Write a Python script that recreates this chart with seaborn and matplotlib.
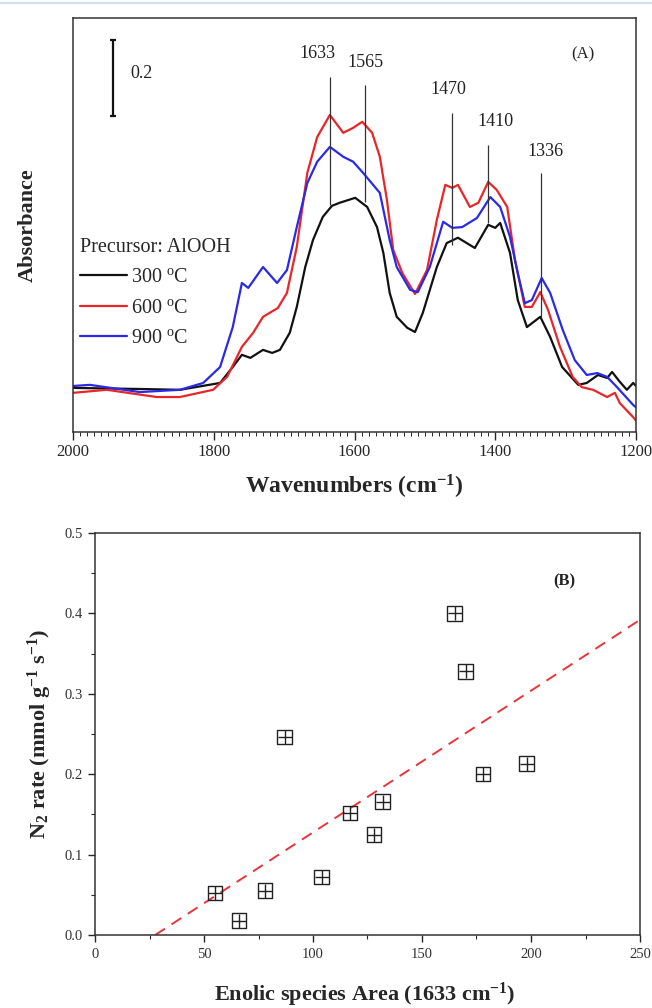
import numpy as np
import pandas as pd
import matplotlib
matplotlib.use("Agg")
import matplotlib.pyplot as plt
from matplotlib.ticker import MultipleLocator, FormatStrFormatter
import seaborn as sns

# ---------------- Panel A data: IR spectra ----------------
w300 = [2000, 1900, 1848, 1791, 1773, 1760, 1748, 1730, 1717, 1706, 1692, 1682, 1670, 1659,
        1645, 1632, 1621, 1599, 1582, 1568, 1559, 1550, 1540, 1525, 1514, 1503, 1483, 1469,
        1453, 1429, 1410, 1400, 1393, 1379, 1368, 1355, 1336, 1322, 1305, 1282, 1270, 1254,
        1241, 1234, 1223, 1213, 1204, 1200]
a300 = [0.116, 0.113, 0.111, 0.129, 0.171, 0.203, 0.195, 0.216, 0.208, 0.216, 0.261, 0.329,
        0.434, 0.505, 0.566, 0.595, 0.603, 0.616, 0.592, 0.539, 0.471, 0.366, 0.303, 0.274,
        0.263, 0.313, 0.434, 0.497, 0.511, 0.484, 0.545, 0.537, 0.550, 0.471, 0.347, 0.276,
        0.303, 0.250, 0.171, 0.124, 0.129, 0.150, 0.142, 0.158, 0.132, 0.111, 0.129, 0.121]

w600 = [2000, 1952, 1881, 1848, 1801, 1781, 1760, 1744, 1730, 1709, 1696, 1682, 1667, 1653,
        1635, 1616, 1602, 1589, 1575, 1564, 1554, 1545, 1532, 1514, 1497, 1483, 1471, 1461,
        1453, 1436, 1424, 1410, 1398, 1383, 1372, 1358, 1348, 1336, 1325, 1308, 1290, 1277,
        1261, 1241, 1230, 1223, 1204, 1200]
a600 = [0.103, 0.111, 0.092, 0.092, 0.111, 0.145, 0.224, 0.261, 0.303, 0.326, 0.366, 0.487,
        0.682, 0.776, 0.834, 0.787, 0.800, 0.816, 0.787, 0.724, 0.611, 0.479, 0.418, 0.363,
        0.426, 0.558, 0.650, 0.642, 0.650, 0.592, 0.603, 0.658, 0.637, 0.592, 0.453, 0.329,
        0.329, 0.368, 0.321, 0.224, 0.145, 0.118, 0.111, 0.092, 0.103, 0.076, 0.039, 0.030]

w900 = [2000, 1976, 1905, 1848, 1815, 1791, 1773, 1760, 1751, 1730, 1710, 1696, 1682, 1667,
        1653, 1635, 1616, 1602, 1588, 1564, 1550, 1540, 1521, 1510, 1493, 1474, 1461, 1447,
        1426, 1407, 1393, 1379, 1368, 1358, 1348, 1334, 1322, 1304, 1287, 1270, 1255, 1241,
        1227, 1204, 1200]
a900 = [0.121, 0.124, 0.105, 0.111, 0.129, 0.171, 0.276, 0.392, 0.379, 0.434, 0.392, 0.426,
        0.539, 0.655, 0.711, 0.750, 0.724, 0.711, 0.682, 0.629, 0.505, 0.434, 0.374, 0.368,
        0.434, 0.553, 0.537, 0.539, 0.563, 0.618, 0.592, 0.513, 0.418, 0.339, 0.347, 0.405,
        0.366, 0.268, 0.189, 0.150, 0.155, 0.145, 0.118, 0.071, 0.065]

series_labels = ["300 $^{o}$C", "600 $^{o}$C", "900 $^{o}$C"]
series_colors = ["#111111", "#e8262a", "#2a2ae6"]

# peak markers
peak_labels = ["1633", "1565", "1470", "1410", "1336"]
peak_line_x = [1635, 1585, 1462, 1411, 1335]
peak_line_top = [0.934, 0.913, 0.839, 0.755, 0.682]
peak_line_bottom = [0.597, 0.605, 0.492, 0.550, 0.303]
peak_text_x = [1652, 1585, 1467, 1400, 1329]
peak_text_y = [0.995, 0.971, 0.900, 0.816, 0.737]

# ---------------- Panel B data ----------------
area = [55, 66, 78, 87, 104, 117, 128, 132, 165, 170, 178, 198]
n2_rate = [0.052, 0.018, 0.055, 0.246, 0.072, 0.152, 0.125, 0.166, 0.400, 0.328, 0.200, 0.213]
fit_x = [27.6, 250]
fit_y = [0.0, 0.392]

# ---------------- style ----------------
sns.set_style("ticks")
plt.rcParams["font.family"] = ["Liberation Serif", "DejaVu Serif"]
plt.rcParams["mathtext.fontset"] = "custom"
plt.rcParams["mathtext.rm"] = "Liberation Serif"
plt.rcParams["mathtext.bf"] = "Liberation Serif:bold"
plt.rcParams["mathtext.it"] = "Liberation Serif:italic"
plt.rcParams["mathtext.default"] = "regular"
plt.rcParams["axes.linewidth"] = 1.1

W, H = 652, 1008
fig = plt.figure(figsize=(W / 100, H / 100), dpi=100)

# ---------- Panel A ----------
axA = fig.add_axes([73 / W, 1 - 432 / H, (636 - 73) / W, (432 - 18) / H])
frames = []
for w, a, lab in zip([w300, w600, w900], [a300, a600, a900], series_labels):
    frames.append(pd.DataFrame({"wavenumber": w, "absorbance": a, "series": lab}))
dfA = pd.concat(frames, ignore_index=True)
sns.lineplot(data=dfA, x="wavenumber", y="absorbance", hue="series",
             palette=dict(zip(series_labels, series_colors)), sort=False,
             estimator=None, lw=1.6, ax=axA, legend=True)
for ln in axA.get_lines():
    ln.set_solid_joinstyle("round")
axA.set_xlim(2000, 1200)
axA.set_ylim(0, 1.089)
axA.set_yticks([])
axA.xaxis.set_major_locator(MultipleLocator(200))
axA.xaxis.set_minor_locator(MultipleLocator(10))
axA.tick_params(axis="x", which="major", direction="out", length=6, width=1.0,
                labelsize=12, pad=3)
axA.tick_params(axis="x", which="minor", direction="out", length=3, width=0.7)
for s in axA.spines.values():
    s.set_color("#333333")

axA.vlines(peak_line_x, peak_line_bottom, peak_line_top, colors="#333333", lw=0.9)
for tx, ty, lab in zip(peak_text_x, peak_text_y, peak_labels):
    axA.text(tx, ty, lab, ha="center", va="center", fontsize=13, color="#222222")
axA.text(1276, 0.992, "(A)", ha="center", va="center", fontsize=12, color="#222222")

# scale bar
axA.errorbar([1943], [0.931], yerr=[0.1], fmt="none", ecolor="#111111",
             elinewidth=1.6, capsize=2.5, capthick=1.6)
axA.text(1919, 0.942, "0.2", ha="left", va="center", fontsize=13, color="#222222")

handles, labels = axA.get_legend_handles_labels()
leg = axA.legend(handles, labels, title="Precursor: AlOOH", loc="upper left",
                 bbox_to_anchor=(0.013, 0.468), frameon=False, fontsize=14.5,
                 title_fontsize=14.5, handlelength=2.3, handletextpad=0.2,
                 labelspacing=0.55, borderaxespad=0, borderpad=0, alignment="left")
for line in leg.get_lines():
    line.set_linewidth(1.6)

axA.set_xlabel("Wavenumbers (cm$^{-1}$)", fontsize=17, fontweight="bold")
axA.xaxis.set_label_coords(0.5, -0.098)
axA.set_ylabel("Absorbance", fontsize=16, fontweight="bold")
axA.yaxis.set_label_coords(-0.062, 0.5)

# ---------- Panel B ----------
axB = fig.add_axes([95 / W, 1 - 935 / H, (640 - 95) / W, (935 - 533) / H])
dfB = pd.DataFrame({"area": area, "rate": n2_rate})
dfFit = pd.DataFrame({"area": fit_x, "rate": fit_y})
sns.lineplot(data=dfFit, x="area", y="rate", color="#e8343a", lw=1.4,
             dashes=False, ax=axB, linestyle=(0, (6, 4)))
sns.scatterplot(data=dfB, x="area", y="rate", marker="s", s=110,
                facecolor="none", edgecolor="#222222", linewidth=1.0, ax=axB, zorder=3)
sns.scatterplot(data=dfB, x="area", y="rate", marker="+", s=110,
                color="#222222", linewidth=1.0, ax=axB, zorder=3)
axB.set_xlim(0, 250)
axB.set_ylim(0, 0.5)
axB.xaxis.set_major_locator(MultipleLocator(50))
axB.xaxis.set_minor_locator(MultipleLocator(25))
axB.yaxis.set_major_locator(MultipleLocator(0.1))
axB.yaxis.set_minor_locator(MultipleLocator(0.05))
axB.yaxis.set_major_formatter(FormatStrFormatter("%.1f"))
axB.tick_params(which="major", direction="out", length=5, width=1.0,
                labelsize=10.5, labelcolor="#333333", pad=4)
axB.tick_params(which="minor", direction="out", length=3, width=0.8)
for s in axB.spines.values():
    s.set_color("#333333")
axB.text(215.5, 0.44, "(B)", ha="center", va="center", fontsize=12,
         fontweight="bold", color="#222222")
axB.set_xlabel("Enolic species Area (1633 cm$^{-1}$)", fontsize=16, fontweight="bold")
axB.xaxis.set_label_coords(0.495, -0.113)
axB.set_ylabel("N$_{2}$ rate (mmol g$^{-1}$ s$^{-1}$)", fontsize=16, fontweight="bold")
axB.yaxis.set_label_coords(-0.075, 0.5)

# thin page rule at the very top
fig.add_artist(plt.Line2D([0, 1], [1 - 3 / H, 1 - 3 / H], color="#cfe0f2", lw=1.5,
                          transform=fig.transFigure))

fig.savefig("out.png", dpi=100)
